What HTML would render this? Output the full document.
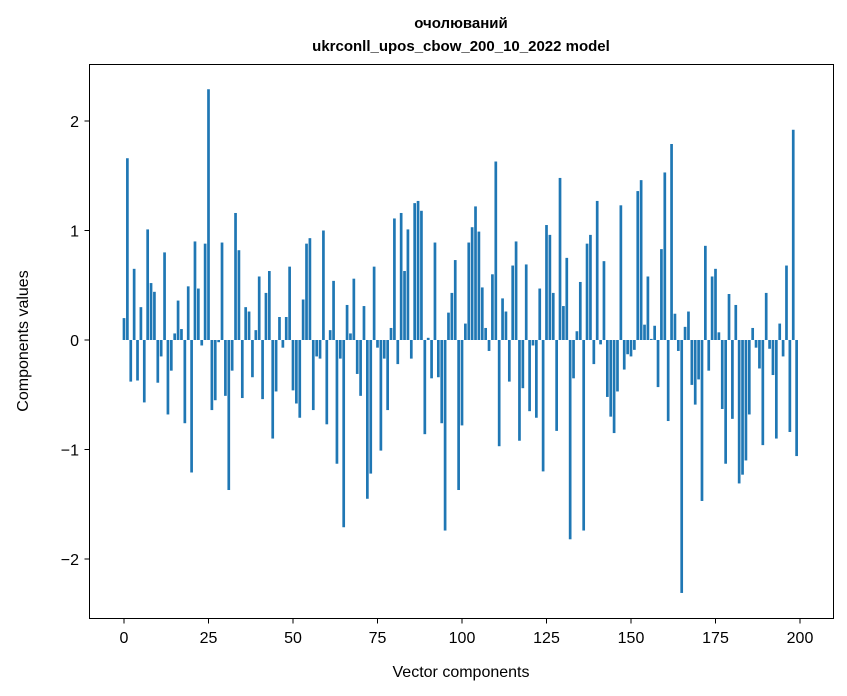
<!DOCTYPE html>
<html><head><meta charset="utf-8"><style>
body{margin:0;background:#fff;}
svg{display:block;font-family:"Liberation Sans","DejaVu Sans",sans-serif;}
</style></head><body>
<svg id="chart" width="847" height="696" viewBox="0 0 847 696">
<rect width="847" height="696" fill="#fff"/>
<text x="461" y="28" text-anchor="middle" font-size="15" font-weight="bold">очолюваний</text>
<text x="461" y="51" text-anchor="middle" font-size="15" font-weight="bold">ukrconll_upos_cbow_200_10_2022 model</text>
<g id="bars"></g>
<g id="xticks"></g>
<g id="yticks"></g>
<rect x="89.5" y="64.5" width="744" height="554" fill="none" stroke="#000" stroke-width="1"/>
<text x="461" y="677" text-anchor="middle" font-size="16">Vector components</text>
<text transform="translate(28,341) rotate(-90)" text-anchor="middle" font-size="16">Components values</text>
</svg>
<script>
const values = [0.20,1.66,-0.38,0.65,-0.37,0.30,-0.57,1.01,0.52,0.44,
-0.39,-0.15,0.80,-0.68,-0.28,0.06,0.36,0.10,-0.76,0.49,
-1.21,0.90,0.47,-0.05,0.88,2.29,-0.64,-0.55,-0.02,0.89,
-0.51,-1.37,-0.28,1.16,0.82,-0.53,0.30,0.26,-0.34,0.09,
0.58,-0.54,0.43,0.63,-0.90,-0.47,0.21,-0.07,0.21,0.67,
-0.46,-0.58,-0.71,0.37,0.88,0.93,-0.64,-0.15,-0.17,1.00,
-0.77,0.09,0.54,-1.13,-0.17,-1.71,0.32,0.06,0.56,-0.31,
-0.51,0.31,-1.45,-1.22,0.67,-0.07,-1.01,-0.17,-0.64,0.11,
1.11,-0.22,1.16,0.63,1.01,-0.17,1.25,1.27,1.18,-0.86,
0.02,-0.35,0.89,-0.34,-0.76,-1.74,0.25,0.43,0.73,-1.37,
-0.78,0.15,0.89,1.03,1.22,0.99,0.48,0.11,-0.10,0.60,
1.63,-0.97,0.38,0.26,-0.38,0.68,0.90,-0.92,-0.44,0.69,
-0.65,-0.05,-0.71,0.47,-1.20,1.05,0.96,0.43,-0.83,1.48,
0.31,0.75,-1.82,-0.35,0.08,0.53,-1.74,0.88,0.96,-0.22,
1.27,-0.04,0.72,-0.52,-0.70,-0.85,-0.47,1.23,-0.27,-0.13,
-0.15,-0.09,1.36,1.46,0.14,0.58,0.01,0.13,-0.43,0.83,
1.53,-0.74,1.79,0.24,-0.10,-2.31,0.12,0.26,-0.41,-0.59,
-0.36,-1.47,0.86,-0.28,0.58,0.65,0.07,-0.63,-1.13,0.42,
-0.72,0.32,-1.31,-1.23,-1.10,-0.68,0.11,-0.07,-0.26,-0.96,
0.43,-0.08,-0.32,-0.90,0.15,-0.15,0.68,-0.84,1.92,-1.06];
const xTicks = [0,25,50,75,100,125,150,175,200];
const yTicks = [-2,-1,0,1,2];
const NS = "http://www.w3.org/2000/svg";
function xScale(i){ return 124 + i*3.38; }
function yScale(v){ return 340 - v*109.5; }
const bars = document.getElementById('bars');
values.forEach((v,i)=>{
  const r = document.createElementNS(NS,'rect');
  const y0 = yScale(0), y1 = yScale(v);
  r.setAttribute('x', xScale(i)-1.35);
  r.setAttribute('width', 2.7);
  r.setAttribute('y', Math.min(y0,y1));
  r.setAttribute('height', Math.max(Math.abs(y1-y0),0.3));
  r.setAttribute('fill', '#1f77b4');
  
  
  bars.appendChild(r);
});
const xg = document.getElementById('xticks');
xTicks.forEach(t=>{
  const x = xScale(t);
  const l = document.createElementNS(NS,'line');
  l.setAttribute('x1',x); l.setAttribute('x2',x); l.setAttribute('y1',618.5); l.setAttribute('y2',623.5);
  l.setAttribute('stroke','#000');
  
  
  xg.appendChild(l);
  const tx = document.createElementNS(NS,'text');
  tx.setAttribute('x',x); tx.setAttribute('y',643); tx.setAttribute('text-anchor','middle'); tx.setAttribute('font-size','16');
  tx.textContent = t;
  
  
  xg.appendChild(tx);
});
const yg = document.getElementById('yticks');
yTicks.forEach(t=>{
  const y = yScale(t);
  const l = document.createElementNS(NS,'line');
  l.setAttribute('x1',84.5); l.setAttribute('x2',89.5); l.setAttribute('y1',y); l.setAttribute('y2',y);
  l.setAttribute('stroke','#000');
  
  
  yg.appendChild(l);
  const tx = document.createElementNS(NS,'text');
  tx.setAttribute('x',79); tx.setAttribute('y',y+6); tx.setAttribute('text-anchor','end'); tx.setAttribute('font-size','16');
  tx.textContent = t<0 ? '\u2212'+Math.abs(t) : String(t);
  
  
  yg.appendChild(tx);
});
</script>
</body></html>
